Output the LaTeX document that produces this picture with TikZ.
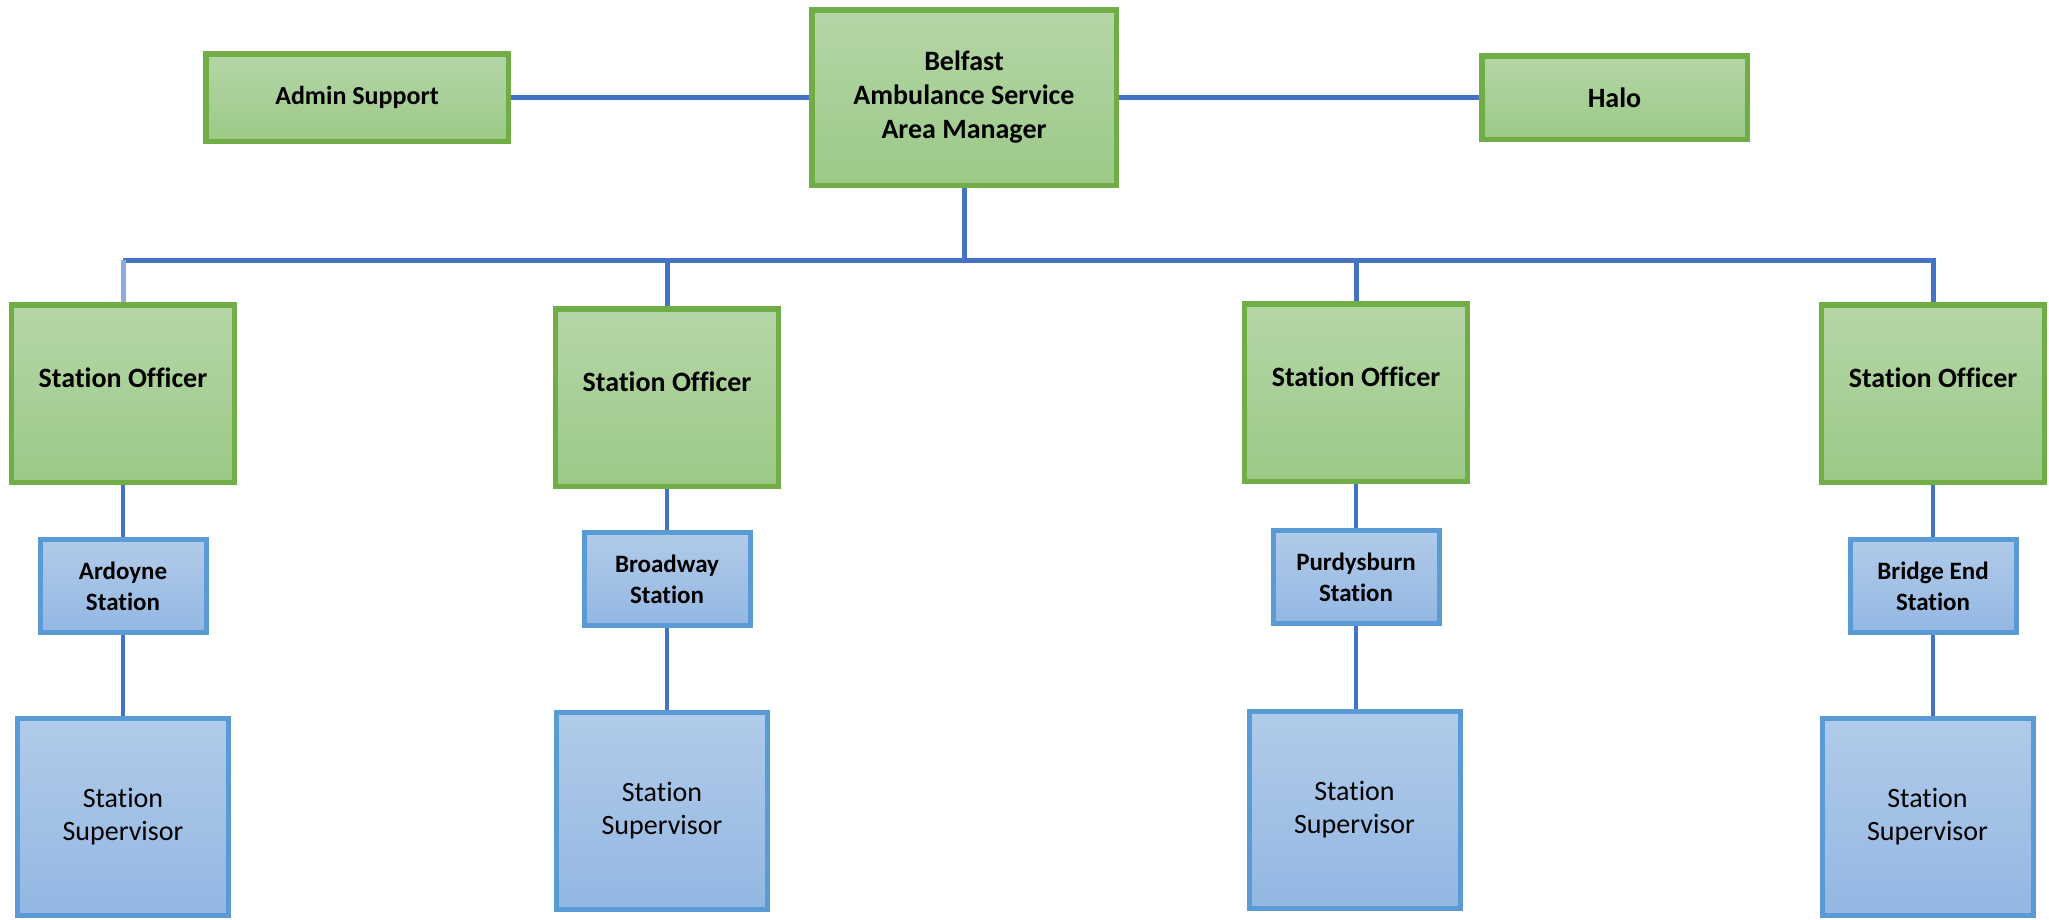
\documentclass[tikz,border=0pt]{standalone}
\usepackage{fontspec}
\setmainfont{Carlito}[Ligatures=NoCommon]
\definecolor{greentop}{HTML}{B5D6A7}
\definecolor{greenbot}{HTML}{9CC987}
\definecolor{greenline}{HTML}{70AD47}
\definecolor{bluetop}{HTML}{B1CBE9}
\definecolor{bluebot}{HTML}{93B7E3}
\definecolor{blueline}{HTML}{5B9BD5}
\definecolor{linkblue}{HTML}{4472C4}
\definecolor{linklight}{HTML}{8FAADC}
\tikzset{mgrbox/.style = {draw=greenline, line width=5.5pt, top color=greentop, bottom color=greenbot, inner sep=0pt, align=center, font=\bfseries\fontsize{28}{34}\selectfont},
         officer/.style = {mgrbox, minimum width=223pt, minimum height=177.5pt, text height=18pt, text depth=31pt},
         stationbox/.style = {draw=blueline, line width=5pt, top color=bluetop, bottom color=bluebot, inner sep=0pt, align=center, minimum width=166pt, minimum height=93pt, font=\bfseries\fontsize{25}{31}\selectfont},
         supbox/.style = {stationbox, minimum width=211pt, minimum height=197pt, font=\fontsize{28}{33}\selectfont},
         link/.style = {draw=linkblue, line width=5pt}}

\begin{document}
\begin{tikzpicture}[x=1pt, y=-1pt]
\useasboundingbox (0,0) rectangle (2049,919);
\node [mgrbox, minimum width=302.5pt, minimum height=87.5pt, font=\bfseries\fontsize{26}{31}\selectfont] (admin) at (357,97.5) {Admin Support};
\node [mgrbox, minimum width=304.5pt, minimum height=175.5pt] (area) at (964,97.5) {Belfast\\Ambulance Service\\Area Manager};
\node [mgrbox, minimum width=265.5pt, minimum height=83.5pt] (halo) at (1614.5,97.5) {Halo};

\node [officer] (so1) at (123,393.5) {Station Officer};
\node [officer] (so2) at (667,397.5) {Station Officer};
\node [officer] (so3) at (1356,392.5) {Station Officer};
\node [officer] (so4) at (1933,393.5) {Station Officer};

\node [stationbox] (st1) at (123,586) {Ardoyne\\Station};
\node [stationbox] (st2) at (667,579) {Broadway\\Station};
\node [stationbox] (st3) at (1356,577) {Purdysburn\\Station};
\node [stationbox] (st4) at (1933,586) {Bridge End\\Station};

\node [supbox] (sup1) at (123,817) {Station\\Supervisor};
\node [supbox] (sup2) at (662,811) {Station\\Supervisor};
\node [supbox] (sup3) at (1354.5,809.5) {Station\\Supervisor};
\node [supbox] (sup4) at (1927.5,817) {Station\\Supervisor};

\coordinate (bus) at (964,260);
\draw [link] (admin) -- (area);
\draw [link] (area) -- (halo);
\draw [link] (area) -- (bus);
\draw [link] (so1.north |- bus) -- (so4.north |- bus) -- (so4.north);
\draw [link, draw=linklight] (so1.north |- bus) -- (so1.north);
\draw [link] (so2.north |- bus) -- (so2.north);
\draw [link] (so3.north |- bus) -- (so3.north);
\draw [link, line width=4.5pt] (so1) -- (st1) (so2) -- (st2) (so3) -- (st3) (so4) -- (st4);
\draw [link, line width=4.5pt] (st1) -- (sup1);
\draw [link, line width=4.5pt] (st2.south) -- (st2.south |- sup2.north);
\draw [link, line width=4.5pt] (st3.south) -- (st3.south |- sup3.north);
\draw [link, line width=4.5pt] (st4.south) -- (st4.south |- sup4.north);
\end{tikzpicture}
\end{document}
